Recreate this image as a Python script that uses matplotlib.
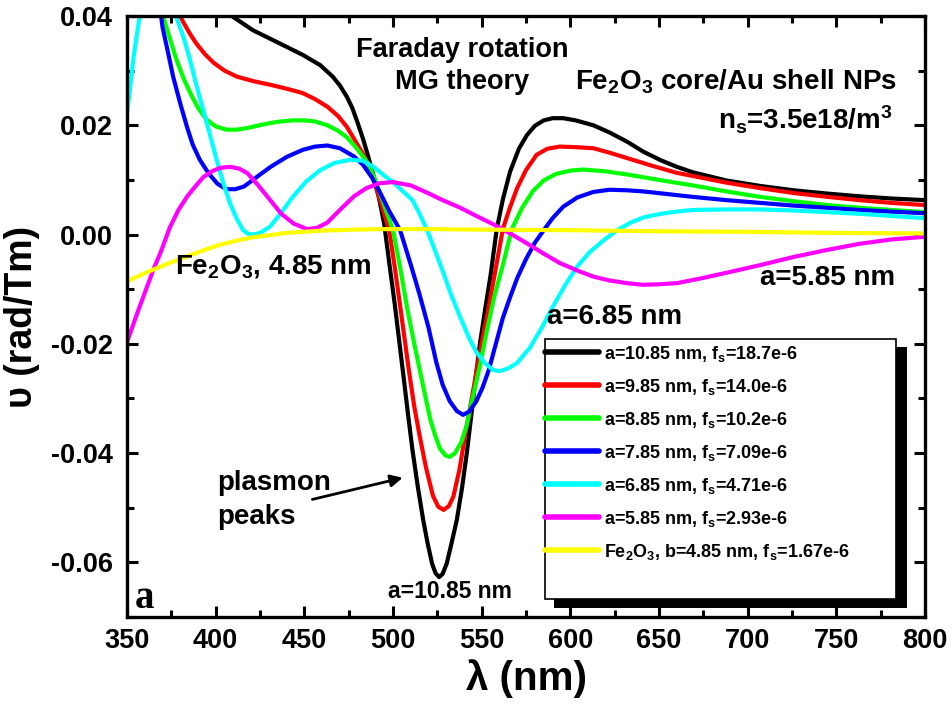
import numpy as np
import matplotlib
matplotlib.use("Agg")
import matplotlib.pyplot as plt
from matplotlib.patches import Rectangle
from matplotlib.ticker import MultipleLocator, FormatStrFormatter

plt.rcParams["font.family"] = ["Liberation Sans", "DejaVu Sans"]
plt.rcParams["font.weight"] = "bold"
plt.rcParams["mathtext.fontset"] = "custom"
plt.rcParams["mathtext.rm"] = "Liberation Sans:bold"
plt.rcParams["mathtext.it"] = "Liberation Sans:bold"
plt.rcParams["mathtext.bf"] = "Liberation Sans:bold"

# Faraday rotation (rad/Tm) vs wavelength (nm), core/shell particles
lam_a1085 = [398, 410, 421, 436, 449, 459, 466, 470, 474, 477, 480, 483, 486, 489, 492,
             495, 498, 501, 503.5, 506, 508.5, 511, 514, 517, 519.5, 522, 524, 526, 528,
             530.3, 533, 536, 539, 541.6, 544, 546.5, 549, 552, 555, 558.5, 562, 566,
             571, 575.5, 580, 585, 590, 596, 603, 613, 622, 632, 641, 651, 660, 669,
             688, 707, 726, 745, 763, 781, 800]
rot_a1085 = [0.0430, 0.0398, 0.0374, 0.0350, 0.0329, 0.0310, 0.0289, 0.0273, 0.0252,
             0.0232, 0.0205, 0.0176, 0.0143, 0.0108, 0.0068, 0.0020, -0.0055, -0.0128,
             -0.0195, -0.0262, -0.0330, -0.0395, -0.0462, -0.0522, -0.0565, -0.0602,
             -0.0620, -0.0627, -0.0621, -0.0602, -0.0565, -0.0522, -0.0462, -0.0400,
             -0.0335, -0.0265, -0.0200, -0.0136, -0.0075, 0.0010, 0.0065, 0.0115,
             0.0157, 0.0182, 0.0199, 0.0209, 0.0213, 0.0213, 0.0209, 0.0200, 0.0187,
             0.0170, 0.0152, 0.0136, 0.0124, 0.0114, 0.0099, 0.0089, 0.0081, 0.0075,
             0.0070, 0.0066, 0.0063]

lam_a985 = [376, 381, 385, 389, 394, 399, 405, 412, 421, 431, 440, 449, 456, 463, 469,
            474, 479, 483, 486, 490, 494, 498, 501, 504, 506.5, 509, 512, 515, 518.5,
            522.5, 525.5, 528.5, 531.5, 534, 537.5, 540.5, 543, 545.5, 549, 553, 557.5,
            562, 566, 570, 575, 581, 587, 594, 603, 613, 622, 632, 646, 660, 674, 688,
            707, 726, 745, 763, 781, 800]
rot_a985 = [0.0430, 0.0393, 0.0370, 0.0350, 0.0330, 0.0314, 0.0300, 0.0289, 0.0281,
            0.0274, 0.0267, 0.0259, 0.0248, 0.0234, 0.0217, 0.0197, 0.0170, 0.0148,
            0.0130, 0.0090, 0.0050, 0.0005, -0.0060, -0.0130, -0.0190, -0.0250, -0.0315,
            -0.0368, -0.0425, -0.0478, -0.0498, -0.0504, -0.0497, -0.0480, -0.0430,
            -0.0370, -0.0325, -0.0280, -0.0215, -0.0150, -0.0070, 0.0011, 0.0050, 0.0085,
            0.0118, 0.0146, 0.0157, 0.0161, 0.0160, 0.0158, 0.0150, 0.0140, 0.0126,
            0.0113, 0.0104, 0.0095, 0.0085, 0.0076, 0.0069, 0.0063, 0.0058, 0.0054]

lam_a885 = [369, 371, 375, 378, 382, 386, 390, 395, 400, 406, 412, 418, 426, 434, 443,
            450, 456, 463, 469, 474, 479, 483, 486, 490, 494, 500, 504, 508, 512, 516,
            521, 524, 526.5, 529.5, 532, 535, 538.5, 541.5, 544, 549, 553, 557, 562, 567,
            573, 579, 585, 592, 600, 607, 619, 632, 650, 669, 688, 707, 726, 745, 763,
            781, 800]
rot_a885 = [0.0430, 0.0393, 0.0350, 0.0319, 0.0285, 0.0257, 0.0232, 0.0210, 0.0198,
            0.0192, 0.0192, 0.0195, 0.0201, 0.0206, 0.0209, 0.0209, 0.0207, 0.0200,
            0.0190, 0.0178, 0.0160, 0.0143, 0.0130, 0.0100, 0.0063, 0.0008, -0.0060,
            -0.0135, -0.0200, -0.0262, -0.0338, -0.0370, -0.0392, -0.0404, -0.0407,
            -0.0400, -0.0380, -0.0350, -0.0312, -0.0240, -0.0175, -0.0115, -0.0055,
            0.0010, 0.0050, 0.0080, 0.0099, 0.0111, 0.0117, 0.0119, 0.0116, 0.0110,
            0.0100, 0.0090, 0.0079, 0.0069, 0.0061, 0.0054, 0.0049, 0.0045, 0.0041]

lam_a785 = [368, 370, 373, 376, 380, 384, 387, 391, 396, 401, 406, 411, 416, 423, 431,
            440, 449, 456, 463, 470, 478, 483, 488, 493, 498, 504, 510, 515, 520, 524.5,
            528, 532, 536, 539.5, 543, 547, 550.5, 554, 558, 562, 566, 570, 575, 580,
            585, 590, 596, 604, 613, 622, 632, 641, 655, 669, 688, 707, 726, 745, 763,
            781, 800]
rot_a785 = [0.0430, 0.0380, 0.0335, 0.0289, 0.0240, 0.0195, 0.0165, 0.0137, 0.0112,
            0.0093, 0.0083, 0.0083, 0.0088, 0.0105, 0.0124, 0.0142, 0.0155, 0.0161,
            0.0163, 0.0158, 0.0143, 0.0128, 0.0105, 0.0075, 0.0042, 0.0008, -0.0055,
            -0.0110, -0.0170, -0.0235, -0.0275, -0.0305, -0.0323, -0.0330, -0.0324,
            -0.0305, -0.0280, -0.0248, -0.0200, -0.0152, -0.0115, -0.0080, -0.0045,
            -0.0015, 0.0008, 0.0030, 0.0051, 0.0068, 0.0078, 0.0082, 0.0081, 0.0079,
            0.0074, 0.0069, 0.0063, 0.0058, 0.0053, 0.0049, 0.0045, 0.0042, 0.0039]

lam_a685 = [350, 351.5, 353.5, 355.5, 357, 359, 367, 376, 378, 382, 385.5, 389, 393,
            397, 400.5, 404, 408, 412, 415.5, 418, 421, 425, 430.5, 437, 443.5, 451,
            459, 467, 476, 483, 489, 495, 500, 505, 511, 515, 519, 524, 528.5, 533, 538,
            543, 547, 552, 556.5, 560, 565, 570, 577, 584, 590.5, 597, 604, 611, 619,
            626, 634, 642, 651, 660, 669, 688, 707, 726, 745, 763, 781, 800]
rot_a685 = [0.0222, 0.0262, 0.0320, 0.0365, 0.0396, 0.0430, 0.0500, 0.0430, 0.0396,
            0.0360, 0.0320, 0.0275, 0.0228, 0.0180, 0.0137, 0.0097, 0.0058, 0.0028,
            0.0008, 0.0002, 0.0000, 0.0003, 0.0014, 0.0040, 0.0069, 0.0097, 0.0118,
            0.0131, 0.0137, 0.0135, 0.0124, 0.0108, 0.0096, 0.0081, 0.0063, 0.0038,
            0.0010, -0.0032, -0.0071, -0.0112, -0.0152, -0.0190, -0.0215, -0.0236,
            -0.0248, -0.0250, -0.0245, -0.0235, -0.0208, -0.0170, -0.0130, -0.0093,
            -0.0058, -0.0032, -0.0010, 0.0007, 0.0022, 0.0032, 0.0038, 0.0042, 0.0045,
            0.0046, 0.0046, 0.0044, 0.0041, 0.0038, 0.0034, 0.0030]

lam_a585 = [350, 354, 357, 361, 365, 369.5, 374, 379, 384, 389, 393, 398, 402.5, 408,
            413, 418, 424, 431, 437, 444, 451.5, 457, 463, 470, 478, 485, 492.5, 500,
            510, 519, 528, 538, 547, 556.5, 566, 575.5, 585, 594, 604, 613, 622, 632,
            641, 650, 660, 674, 688, 707, 726, 745, 763, 781, 800]
rot_a585 = [-0.0197, -0.0160, -0.0133, -0.0098, -0.0063, -0.0028, 0.0012, 0.0045,
            0.0070, 0.0090, 0.0105, 0.0116, 0.0122, 0.0124, 0.0121, 0.0112, 0.0090,
            0.0062, 0.0038, 0.0020, 0.0010, 0.0012, 0.0022, 0.0045, 0.0070, 0.0085,
            0.0094, 0.0096, 0.0090, 0.0077, 0.0063, 0.0049, 0.0034, 0.0019, 0.0002,
            -0.0016, -0.0035, -0.0052, -0.0066, -0.0077, -0.0084, -0.0089, -0.0092,
            -0.0091, -0.0089, -0.0080, -0.0070, -0.0056, -0.0041, -0.0028, -0.0017,
            -0.0009, -0.0004]

lam_core = [350, 357, 365, 374, 383, 393, 402, 412, 421, 431, 440, 450, 459, 478, 497,
            520, 550, 600, 650, 700, 750, 800]
rot_core = [-0.0086, -0.0075, -0.0064, -0.0052, -0.0041, -0.0029, -0.0019, -0.0011,
            -0.0005, -0.0001, 0.0003, 0.0005, 0.0007, 0.0009, 0.0010, 0.0010, 0.0009,
            0.0008, 0.0006, 0.0005, 0.0003, 0.0002]

series = [
    (lam_a1085, rot_a1085, "black", "a=10.85 nm, f$_{s}$=18.7e-6"),
    (lam_a985, rot_a985, "#ff0000", "a=9.85 nm, f$_{s}$=14.0e-6"),
    (lam_a885, rot_a885, "#00ff00", "a=8.85 nm, f$_{s}$=10.2e-6"),
    (lam_a785, rot_a785, "#0000ff", "a=7.85 nm, f$_{s}$=7.09e-6"),
    (lam_a685, rot_a685, "#00ffff", "a=6.85 nm, f$_{s}$=4.71e-6"),
    (lam_a585, rot_a585, "#ff00ff", "a=5.85 nm, f$_{s}$=2.93e-6"),
    (lam_core, rot_core, "#ffff00", "Fe$_{2}$O$_{3}$, b=4.85 nm, f$_{s}$=1.67e-6"),
]

fig = plt.figure(figsize=(9.53, 7.06), dpi=100)
ax = fig.add_axes([0.1333, 0.1261, 0.8373, 0.8512])

handles = []
for lam, rot, col, lab in series:
    ln, = ax.plot(lam, rot, color=col, lw=3, label=lab,
                  solid_capstyle="round", solid_joinstyle="round")
    handles.append(ln)

ax.set_xlim(350, 800)
ax.set_ylim(-0.07, 0.04)
ax.xaxis.set_major_locator(MultipleLocator(50))
ax.xaxis.set_minor_locator(MultipleLocator(25))
ax.yaxis.set_major_locator(MultipleLocator(0.02))
ax.yaxis.set_minor_locator(MultipleLocator(0.01))
ax.yaxis.set_major_formatter(FormatStrFormatter("%.2f"))
ax.tick_params(which="both", direction="in", top=True, right=True, width=2.2,
               labelsize=19.5)
ax.tick_params(which="major", length=8)
ax.tick_params(which="minor", length=5)
ax.tick_params(axis="y", pad=10)
ax.tick_params(axis="x", pad=8)
for sp in ax.spines.values():
    sp.set_linewidth(2.4)

ax.set_xlabel("λ (nm)", fontsize=29, fontweight="bold", labelpad=4)
ax.set_ylabel("υ (rad/Tm)", fontsize=27, fontweight="bold", labelpad=8)

# annotations
fs = 20
ax.text(539, 0.0338, "Faraday rotation", ha="center", va="center", fontsize=19.5)
ax.text(539, 0.0279, "MG theory", ha="center", va="center", fontsize=19.5)
ax.text(784, 0.0279, "Fe$_{2}$O$_{3}$ core/Au shell NPs", ha="right", va="center",
        fontsize=fs)
ax.text(782, 0.0210, "n$_{s}$=3.5e18/m$^{3}$", ha="right", va="center", fontsize=fs)
ax.text(377, -0.0059, "Fe$_{2}$O$_{3}$, 4.85 nm", ha="left", va="center", fontsize=fs)
ax.text(783, -0.0080, "a=5.85 nm", ha="right", va="center", fontsize=fs)
ax.text(587, -0.0151, "a=6.85 nm", ha="left", va="center", fontsize=fs)
ax.text(401, -0.0455, "plasmon", ha="left", va="center", fontsize=fs)
ax.text(401, -0.0517, "peaks", ha="left", va="center", fontsize=fs)
ax.annotate("", xy=(507, -0.0444), xytext=(453, -0.0486),
            arrowprops=dict(arrowstyle="-|>", color="black", lw=2, mutation_scale=18))
ax.text(532, -0.0654, "a=10.85 nm", ha="center", va="center", fontsize=16.5)
ax.text(354.5, -0.0683, "a", ha="left", va="baseline", fontsize=28,
        family="Liberation Serif", fontweight="bold")

# legend box with a solid drop shadow
ax.add_patch(Rectangle((0.535, 0.015), 0.442, 0.434, transform=ax.transAxes,
                       facecolor="black", edgecolor="none", zorder=5))
ax.add_patch(Rectangle((0.524, 0.030), 0.4397, 0.4326, transform=ax.transAxes,
                       facecolor="white", edgecolor="black", lw=1.2, zorder=6))
leg = ax.legend(handles=handles, loc="upper left", bbox_to_anchor=(0.524, 0.455),
                frameon=False, borderpad=0, borderaxespad=0, fontsize=13,
                handlelength=3.0, handletextpad=0.25, labelspacing=0.72)
leg.set_zorder(7)
for ln in leg.get_lines():
    ln.set_linewidth(4)

fig.savefig("out.png", dpi=100)
